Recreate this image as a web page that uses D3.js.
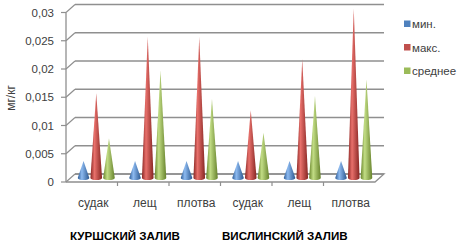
<!DOCTYPE html>
<html><head><meta charset="utf-8">
<script src="https://cdn.jsdelivr.net/npm/d3@7"></script>
<style>body{margin:0;background:#fff}svg{display:block}</style>
</head><body>
<script>
const categories = ["судак","лещ","плотва","судак","лещ","плотва"];
const groups = [{name:"КУРШСКИЙ ЗАЛИВ", from:0, to:2},{name:"ВИСЛИНСКИЙ ЗАЛИВ", from:3, to:5}];
const seriesNames = ["мин.","макс.","среднее"];
const minVals = [0.003,0.003,0.003,0.003,0.003,0.003];
const maxVals = [0.015,0.025,0.025,0.012,0.021,0.030];
const avgVals = [0.007,0.019,0.014,0.008,0.0145,0.0175];
const yTicks = [0,0.005,0.01,0.015,0.02,0.025,0.03];
const colors = ["#4F81BD","#C0504D","#9BBB59"];

const W=464,H=243;
const svg=d3.select("body").append("svg").attr("width",W).attr("height",H).style("font-family","'Liberation Sans',Arial,sans-serif");
const defs=svg.append("defs");
const shades=[["#2b5a95","#8dbaf0","#2a5790"],["#8a2724","#e8706b","#862522"],["#69862c","#c2dd85","#66822b"]];
shades.forEach((s,i)=>{
  const g=defs.append("linearGradient").attr("id","g"+i).attr("x1","0").attr("x2","1").attr("y1","0").attr("y2","0");
  g.append("stop").attr("offset","0%").attr("stop-color",s[0]);
  g.append("stop").attr("offset","35%").attr("stop-color",s[1]);
  g.append("stop").attr("offset","100%").attr("stop-color",s[2]);
});

const fx0=66, fx1=375, dx=9, dy=-8;
const y=d3.scaleLinear().domain([0,0.03]).range([182,12.5]);
const x=d3.scaleBand().domain(d3.range(categories.length)).range([fx0,fx1]);
const xs=d3.scaleBand().domain([0,1,2]).range([0,x.bandwidth()]).paddingInner(0.05).paddingOuter(0.55);
const fmt=d3.formatLocale({decimal:",",thousands:" ",grouping:[3],currency:["",""]}).format("~g");
const gridC="#8f8f8f";

// back wall gridlines
svg.append("g").selectAll("line").data(yTicks).join("line")
  .attr("x1",fx0+dx).attr("x2",fx1+dx).attr("y1",d=>y(d)+dy).attr("y2",d=>y(d)+dy)
  .attr("stroke",gridC).attr("stroke-width",1.5);
// side wall lines
svg.append("g").selectAll("line").data(yTicks).join("line")
  .attr("x1",fx0).attr("x2",fx0+dx).attr("y1",d=>y(d)).attr("y2",d=>y(d)+dy)
  .attr("stroke",gridC).attr("stroke-width",1.2);
// floor
svg.append("path").attr("d",`M${fx0},${y(0)}L${fx1},${y(0)}L${fx1+dx},${y(0)+dy}L${fx0+dx},${y(0)+dy}`)
  .attr("fill","none").attr("stroke",gridC).attr("stroke-width",1.3);
// front value axis
svg.append("line").attr("x1",fx0).attr("x2",fx0).attr("y1",y(0.03)).attr("y2",y(0)).attr("stroke",gridC).attr("stroke-width",1.3);
svg.append("g").selectAll("line").data(yTicks).join("line")
  .attr("x1",fx0-5).attr("x2",fx0).attr("y1",d=>y(d)).attr("y2",d=>y(d)).attr("stroke",gridC).attr("stroke-width",1.2);
svg.append("g").selectAll("text").data(yTicks).join("text")
  .attr("x",54).attr("y",d=>y(d)).attr("dy","0.35em").attr("text-anchor","end")
  .attr("font-size",11.5).attr("fill","#404040").text(d=>fmt(d));
// category ticks
svg.append("g").selectAll("line").data(d3.range(1,categories.length)).join("line")
  .attr("x1",d=>x(d)).attr("x2",d=>x(d)).attr("y1",y(0)).attr("y2",y(0)+4).attr("stroke",gridC).attr("stroke-width",1.2);

// cones
const series=[minVals,maxVals,avgVals];
const half=5.8, ry=2;
series.forEach((vals,si)=>{
  svg.append("g").selectAll("path").data(vals).join("path")
    .attr("d",(v,i)=>{
      const cx=x(i)+xs(si)+xs.bandwidth()/2+dx/2;
      const by=y(0)+dy/2, ty=y(v)+dy/2;
      return `M${cx-half},${by}L${cx},${ty}L${cx+half},${by}A${half},${ry} 0 0 1 ${cx-half},${by}Z`;
    })
    .attr("fill",`url(#g${si})`);
});

// category labels
svg.append("g").selectAll("text").data(categories).join("text")
  .attr("x",(d,i)=>x(i)+x.bandwidth()/2+dx/2-3).attr("y",207).attr("text-anchor","middle")
  .attr("font-size",12).attr("fill","#404040").text(d=>d);
// group labels
svg.append("g").selectAll("text").data(groups).join("text")
  .attr("x",(d,i)=>i===0?70:222).attr("y",239.5)
  .attr("font-size",11.6).attr("font-weight","bold").attr("fill","#000").text(d=>d.name);

// y title
svg.append("text").attr("transform","translate(15,98) rotate(-90)").attr("text-anchor","middle")
  .attr("font-size",12).attr("fill","#404040").text("мг/кг");

// legend
const lg=svg.append("g");
seriesNames.forEach((n,i)=>{
  const ly=24+i*23.5;
  lg.append("rect").attr("x",404).attr("y",ly-3.5).attr("width",6.5).attr("height",6.5).attr("fill",colors[i]);
  lg.append("text").attr("x",412).attr("y",ly).attr("dy","0.35em").attr("font-size",11.5).attr("fill","#404040").text(n);
});
</script>
</body></html>
